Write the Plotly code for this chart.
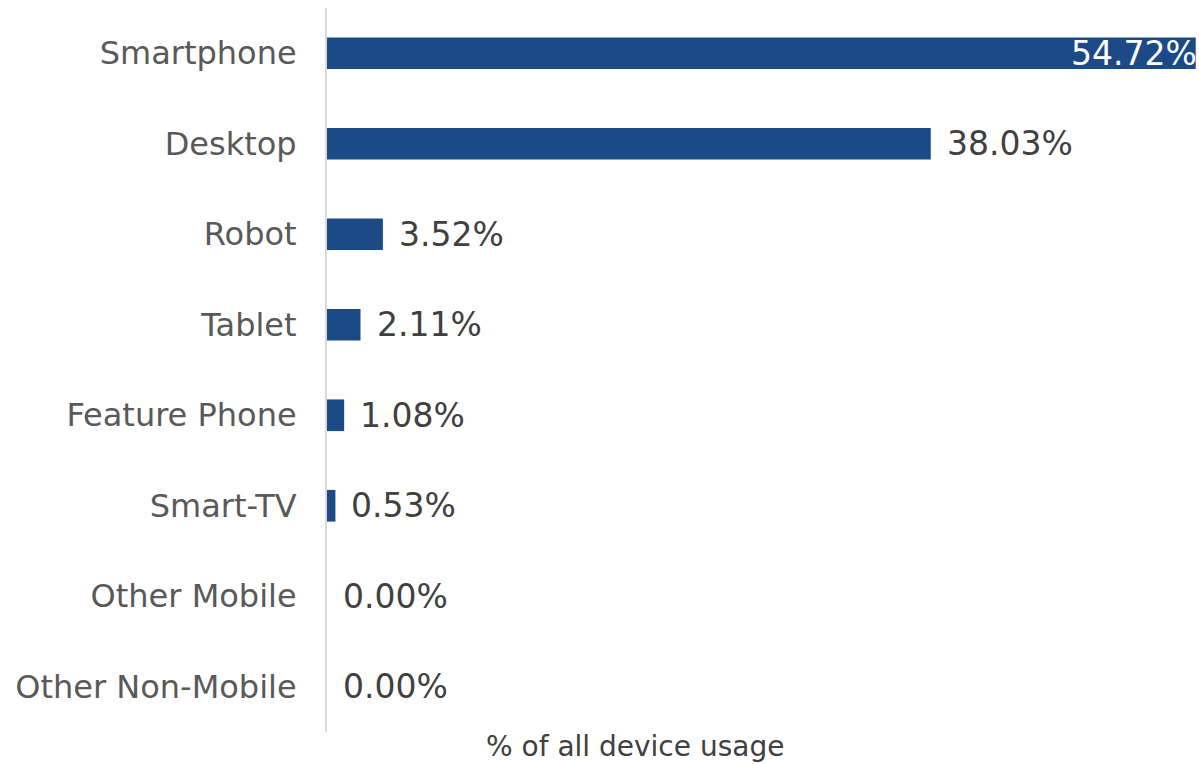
import plotly.graph_objects as go

# Device usage shares (percent of all device usage)
devices = ["Smartphone", "Desktop", "Robot", "Tablet", "Feature Phone",
           "Smart-TV", "Other Mobile", "Other Non-Mobile"]
shares = [54.72, 38.03, 3.52, 2.11, 1.08, 0.53, 0.00, 0.00]

BAR_COLOR = "#1c4a87"
FONT = "DejaVu Sans, Verdana, sans-serif"

fig = go.Figure(
    go.Bar(
        x=shares,
        y=devices,
        orientation="h",
        marker=dict(color=BAR_COLOR, line=dict(width=0)),
        width=0.35,
        hoverinfo="skip",
    )
)

# Value labels: inside (white) for the longest bar, outside for the rest
max_share = max(shares)
for name, val in zip(devices, shares):
    inside = val == max_share
    fig.add_annotation(
        x=val, y=name, xref="x", yref="y",
        text=f"{val:.2f}%",
        showarrow=False,
        xanchor="right" if inside else "left",
        xshift=3 if inside else 14,
        font=dict(family=FONT, size=33, color="#ffffff" if inside else "#404040"),
    )

fig.add_annotation(
    x=0.354, y=0, xref="paper", yref="paper",
    yshift=-14, yanchor="middle", borderpad=0,
    text="% of all device usage",
    showarrow=False,
    font=dict(family=FONT, size=28, color="#404040"),
)

fig.update_layout(
    width=1199, height=764,
    margin=dict(l=327, r=2, t=8, b=32),
    paper_bgcolor="white",
    plot_bgcolor="white",
    showlegend=False,
    bargap=0.65,
    xaxis=dict(
        range=[0, 54.8],
        showgrid=False, zeroline=False, showticklabels=False,
        showline=False, fixedrange=True,
    ),
    yaxis=dict(
        categoryorder="array",
        categoryarray=devices[::-1],
        showgrid=False, zeroline=False,
        showline=True, linecolor="#d9d9d9", linewidth=2,
        ticks="", ticklabelstandoff=22,
        tickfont=dict(family=FONT, size=32, color="#595959"),
        fixedrange=True,
    ),
)

fig.write_html("out.html")
